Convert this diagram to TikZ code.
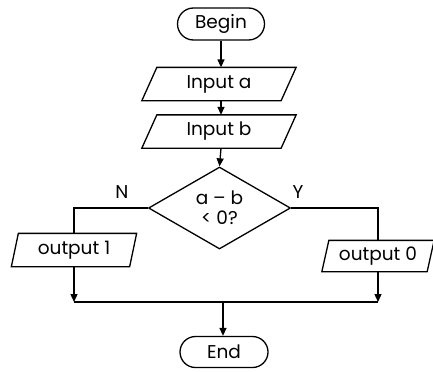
\documentclass[tikz,border=0pt]{standalone}
\usepackage{fontspec}
\setmainfont{Poppins}
\usetikzlibrary{shapes.geometric,shapes.misc,arrows.meta}
\begin{document}
\begin{tikzpicture}[x=1pt,y=-1pt,line width=1.3pt,
  >={Triangle[length=8pt,width=7pt]},
  every node/.style={font=\fontsize{18.5}{19}\selectfont},
  term/.style={rounded rectangle,draw,minimum width=#1,minimum height=32pt,inner sep=0pt},
  iobox/.style={minimum height=32pt,inner sep=0pt},
  lbl/.style={font=\fontsize{18.5}{19}\selectfont}]
\useasboundingbox (0,0) rectangle (433,372);
\node[term=87pt] (begin) at (221,24) {Begin};
\node[iobox,minimum width=138pt] (ina) at (219,84) {Input a};
\node[iobox,minimum width=138pt] (inb) at (219,131.5) {Input b};
\node[diamond,draw,minimum width=142pt,minimum height=82pt,inner sep=0pt,align=center,
  font=\fontsize{18.5}{20}\selectfont] (dec) at (219.5,208) {a – b\\< 0?};
\node[iobox,minimum width=117pt,minimum height=32pt] (out1) at (74,250) {output 1};
\node[iobox,minimum width=104pt,minimum height=30pt] (out0) at (378,256) {output 0};
\node[term=88pt,minimum height=31pt] (end) at (224,352) {End};
\node[lbl] (nl) at (122,192) {N};
\node[lbl] (yl) at (298,192) {Y};
\coordinate (m) at (223,302);
% parallelograms
\foreach \n/\s in {ina/7.5,inb/7.5,out1/3.5,out0/3.5}{
  \draw ([xshift=-\s pt]\n.south west) -- ([xshift=-\s pt]\n.south east)
        -- ([xshift=\s pt]\n.north east) -- ([xshift=\s pt]\n.north west) -- cycle;
}
\draw[->] (begin.south -| 221,0) -- (ina.north -| 221,0);
\draw[->] (ina.south -| 221,0) -- (inb.north -| 221,0);
\draw[->] (inb.south -| 221,0) -- (dec.north);
\draw (dec.west) -| (out1.north);
\draw (dec.east) -| (out0.north);
\draw[->] (out1.south) -- (out1.south |- m);
\draw[->] (out0.south) -- (out0.south |- m);
\draw (out1.south |- m) -- (out0.south |- m);
\draw[->] (m) -- (end.north -| m);
\end{tikzpicture}
\end{document}
